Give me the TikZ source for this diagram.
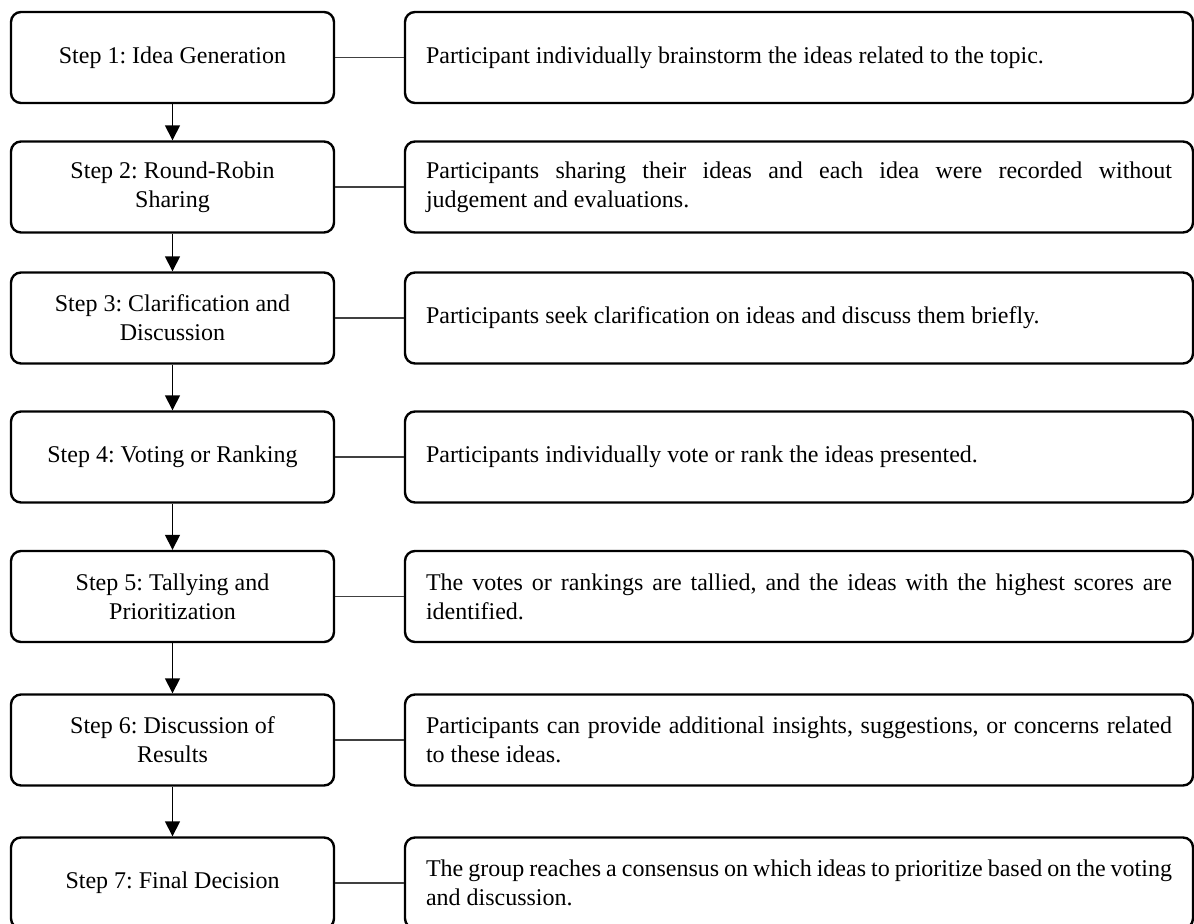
\documentclass[tikz,border=0pt]{standalone}
\usepackage{fontspec}
\setmainfont{Liberation Serif}
\usepackage{tikz}
\usetikzlibrary{arrows.meta, positioning}

\hyphenpenalty=10000
\exhyphenpenalty=10000
\frenchspacing

\begin{document}
\begin{tikzpicture}[
    x=0.5pt, y=-0.5pt,
    font=\fontsize{12pt}{14.5pt}\selectfont,
    stepbox/.style={rectangle, draw, line width=1.2pt, rounded corners=5pt, minimum width=161.5pt, minimum height=45.5pt, align=center, inner sep=2pt},
    descbox/.style={rectangle, draw, line width=1.2pt, rounded corners=5pt, text width=373pt, minimum width=394pt, minimum height=45.5pt, align=justify, inner xsep=10.5pt, inner ysep=2pt},
    flow/.style={-{Triangle[length=7.5pt, width=7.5pt]}, line width=0.8pt},
    link/.style={line width=0.6pt, black!75}
]
\useasboundingbox (0,0) rectangle (1194,924);
\clip (0,0) rectangle (1194,924);

% Steps
\node[stepbox] (step1) at (172.5,57.5) {Step 1: Idea Generation};
\node[stepbox] (step2) at (172.5,187) {Step 2: Round-Robin\\Sharing};
\node[stepbox] (step3) at (172.5,318) {Step 3: Clarification and\\Discussion};
\node[stepbox] (step4) at (172.5,457) {Step 4: Voting or Ranking};
\node[stepbox] (step5) at (172.5,596.5) {Step 5: Tallying and\\Prioritization};
\node[stepbox] (step6) at (172.5,740) {Step 6: Discussion of\\Results};
\node[stepbox] (step7) at (172.5,883) {Step 7: Final Decision};

% Descriptions
\node[descbox] (desc1) at (799,57.5) {Participant individually brainstorm the ideas related to the topic.};
\node[descbox] (desc2) at (799,187) {Participants sharing their ideas and each idea were recorded without\linebreak judgement and evaluations.};
\node[descbox] (desc3) at (799,318) {Participants seek clarification on ideas and discuss them briefly.};
\node[descbox] (desc4) at (799,457) {Participants individually vote or rank the ideas presented.};
\node[descbox] (desc5) at (799,596.5) {The votes or rankings are tallied, and the ideas with the highest scores are identified.};
\node[descbox] (desc6) at (799,740) {Participants can provide additional insights, suggestions, or concerns related to these ideas.};
\node[descbox] (desc7) at (799,883) {The group reaches a consensus on which ideas to prioritize based on the voting and discussion.};

% Flow between steps
\draw[flow] (step1) -- (step2);
\draw[flow] (step2) -- (step3);
\draw[flow] (step3) -- (step4);
\draw[flow] (step4) -- (step5);
\draw[flow] (step5) -- (step6);
\draw[flow] (step6) -- (step7);

% Links to descriptions
\draw[link] (step1) -- (desc1);
\draw[link] (step2) -- (desc2);
\draw[link] (step3) -- (desc3);
\draw[link] (step4) -- (desc4);
\draw[link] (step5) -- (desc5);
\draw[link] (step6) -- (desc6);
\draw[link] (step7) -- (desc7);

\end{tikzpicture}
\end{document}
